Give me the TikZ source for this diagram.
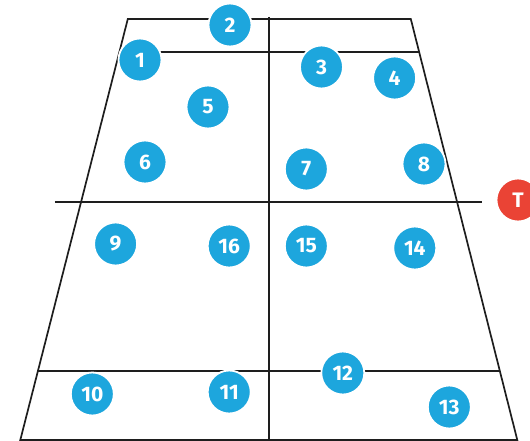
\documentclass[tikz,border=0pt]{standalone}
\usepackage{fontspec}
\setmainfont{Fira Sans}
\usepackage{tikz}
\definecolor{courtline}{RGB}{30,30,30}
\definecolor{plblue}{RGB}{29,166,221}
\definecolor{plred}{RGB}{234,67,53}
\tikzset{
  cl/.style  ={draw=courtline, line width=1.7pt, line join=miter},
  pl/.style  ={circle, fill=plblue, draw=white, line width=1.8pt, minimum size=43pt,
               inner sep=0pt, text=white, font=\fontsize{21}{21}\selectfont\bfseries},
  plt/.style ={pl, fill=plred},
}

\begin{document}
\begin{tikzpicture}[x=1pt,y=-1pt]
  \useasboundingbox (0,0) rectangle (530,441);
  % court
  \draw[cl] (127.8,19) -- (410.8,19) -- (517.3,440) -- (20.3,440) -- cycle;
  \draw[cl] (268.8,17) -- (268.8,440);
  \draw[cl] (119.4,52) -- (419.1,52);
  \draw[cl] (54.8,202) -- (481.8,202);
  \draw[cl] (37.9,371) -- (499.9,371);
  % players
  \node[pl] (p1) at (140,60) {1};
  \node[pl] (p2) at (230,25) {2};
  \node[pl] (p3) at (321.5,67) {3};
  \node[pl] (p4) at (394.6,78) {4};
  \node[pl] (p5) at (208,107) {5};
  \node[pl] (p6) at (145,162) {6};
  \node[pl] (p7) at (306.3,169) {7};
  \node[pl] (p8) at (424,164) {8};
  \node[pl] (p9) at (115.6,244) {9};
  \node[pl] (p16) at (229.2,246) {16};
  \node[pl] (p15) at (306.3,246) {15};
  \node[pl] (p14) at (414.8,248) {14};
  \node[pl] (p12) at (342.8,373) {12};
  \node[pl] (p10) at (92.3,394) {10};
  \node[pl] (p11) at (229.2,392) {11};
  \node[pl] (p13) at (449.3,407) {13};
  \node[plt] (tr) at (518,200) {T};
\end{tikzpicture}
\end{document}
